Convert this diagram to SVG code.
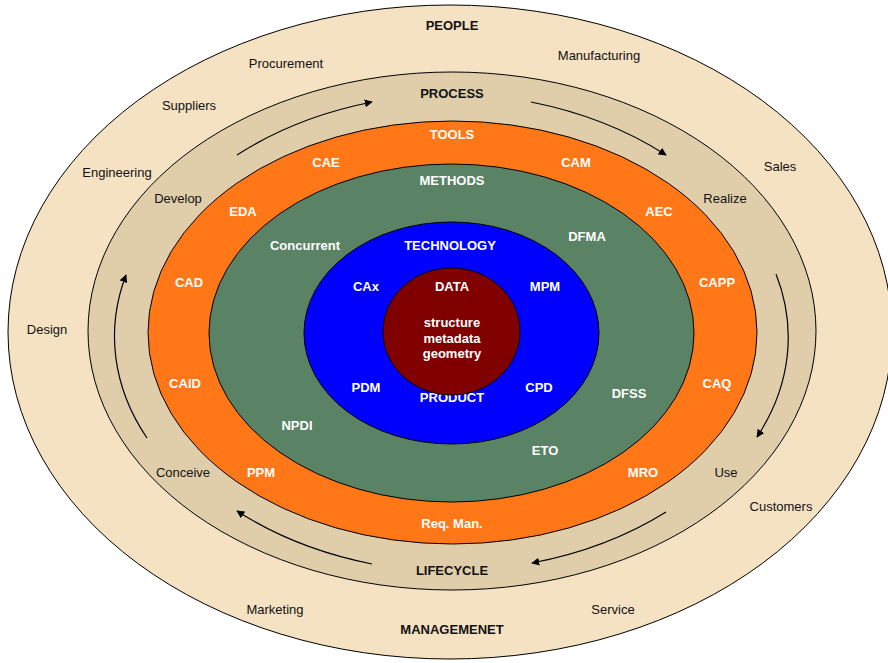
<svg xmlns="http://www.w3.org/2000/svg" width="888" height="663" viewBox="0 0 888 663">
  <style>
    .ring { stroke: #000; stroke-width: 1; }
    .dark { font-family: "Liberation Sans", Arial, sans-serif; font-size: 13px; fill: #111; text-anchor: middle; }
    .head { font-family: "Liberation Sans", Arial, sans-serif; font-size: 13px; font-weight: bold; fill: #111; text-anchor: middle; }
    .lbl { font-family: "Liberation Sans", Arial, sans-serif; font-size: 13px; font-weight: bold; fill: #fff; text-anchor: middle; }
    .flow { fill: none; stroke: #000; stroke-width: 1.2; marker-end: url(#tip); }
  </style>
  <defs>
    <marker id="tip" viewBox="0 0 10 10" refX="9" refY="5" markerWidth="8" markerHeight="8" markerUnits="userSpaceOnUse" orient="auto">
      <path d="M0,0 L10,5 L0,10 Z" fill="#000"/>
    </marker>
  </defs>
  <rect width="888" height="663" fill="#fff"/>

  <!-- outer ring: people / management -->
  <g id="people">
    <ellipse class="ring" cx="450" cy="332" rx="442" ry="327" fill="#F5E2C3"/>
    <text class="head" x="452" y="30">PEOPLE</text>
    <text class="dark" x="286" y="68">Procurement</text>
    <text class="dark" x="599" y="60">Manufacturing</text>
    <text class="dark" x="189" y="110">Suppliers</text>
    <text class="dark" x="780" y="171">Sales</text>
    <text class="dark" x="117" y="177">Engineering</text>
    <text class="dark" x="47" y="334">Design</text>
    <text class="dark" x="781" y="511">Customers</text>
    <text class="dark" x="275" y="614">Marketing</text>
    <text class="dark" x="613" y="614">Service</text>
    <text class="head" x="452" y="634">MANAGEMENET</text>
  </g>

  <!-- process / lifecycle ring -->
  <g id="process">
    <ellipse class="ring" cx="452" cy="331" rx="364" ry="259" fill="#E0CEAB"/>
    <text class="head" x="452" y="98">PROCESS</text>
    <text class="dark" x="178" y="203">Develop</text>
    <text class="dark" x="725" y="203">Realize</text>
    <text class="dark" x="183" y="477">Conceive</text>
    <text class="dark" x="726" y="477">Use</text>
    <text class="head" x="452" y="575">LIFECYCLE</text>
  </g>

  <!-- tools ring -->
  <g id="tools">
    <ellipse class="ring" cx="452.5" cy="332.5" rx="304.5" ry="211.5" fill="#FF7716"/>
    <text class="lbl" x="452" y="139">TOOLS</text>
    <text class="lbl" x="326" y="167">CAE</text>
    <text class="lbl" x="576" y="167">CAM</text>
    <text class="lbl" x="243" y="216">EDA</text>
    <text class="lbl" x="659" y="216">AEC</text>
    <text class="lbl" x="189" y="287">CAD</text>
    <text class="lbl" x="717" y="287">CAPP</text>
    <text class="lbl" x="185" y="388">CAID</text>
    <text class="lbl" x="717" y="388">CAQ</text>
    <text class="lbl" x="261" y="477">PPM</text>
    <text class="lbl" x="643" y="477">MRO</text>
    <text class="lbl" x="452" y="528">Req. Man.</text>
  </g>

  <!-- methods ring -->
  <g id="methods">
    <ellipse class="ring" cx="451.5" cy="333" rx="242.5" ry="169" fill="#5A8264"/>
    <text class="lbl" x="452" y="185">METHODS</text>
    <text class="lbl" x="305" y="250">Concurrent</text>
    <text class="lbl" x="587" y="241">DFMA</text>
    <text class="lbl" x="629" y="398">DFSS</text>
    <text class="lbl" x="297" y="430">NPDI</text>
    <text class="lbl" x="545" y="455">ETO</text>
  </g>

  <!-- technology / product ring -->
  <g id="technology">
    <ellipse class="ring" cx="451.5" cy="333" rx="147.5" ry="111" fill="#0000FF"/>
    <text class="lbl" x="450" y="250">TECHNOLOGY</text>
    <text class="lbl" x="366" y="291">CAx</text>
    <text class="lbl" x="545" y="291">MPM</text>
    <text class="lbl" x="366" y="392">PDM</text>
    <text class="lbl" x="539" y="392">CPD</text>
    <text class="lbl" x="452" y="402">PRODUCT</text>
  </g>

  <!-- data core -->
  <g id="data">
    <ellipse class="ring" cx="451.5" cy="331.5" rx="68.5" ry="63.5" fill="#800000"/>
    <text class="lbl" x="452" y="291">DATA</text>
    <text class="lbl" x="452" y="327">structure</text>
    <text class="lbl" x="452" y="343">metadata</text>
    <text class="lbl" x="452" y="358">geometry</text>
  </g>

  <!-- clockwise lifecycle arrows -->
  <g id="connectors">
    <path class="flow" d="M237,155 A334,236 0 0 1 372,102"/>
    <path class="flow" d="M531,102 A334,236 0 0 1 666,155"/>
    <path class="flow" d="M776,274 A334,236 0 0 1 757,437"/>
    <path class="flow" d="M666,512 A334,236 0 0 1 532,563"/>
    <path class="flow" d="M372,564 A334,236 0 0 1 237,511"/>
    <path class="flow" d="M147,438 A334,236 0 0 1 126,275"/>
  </g>
</svg>
